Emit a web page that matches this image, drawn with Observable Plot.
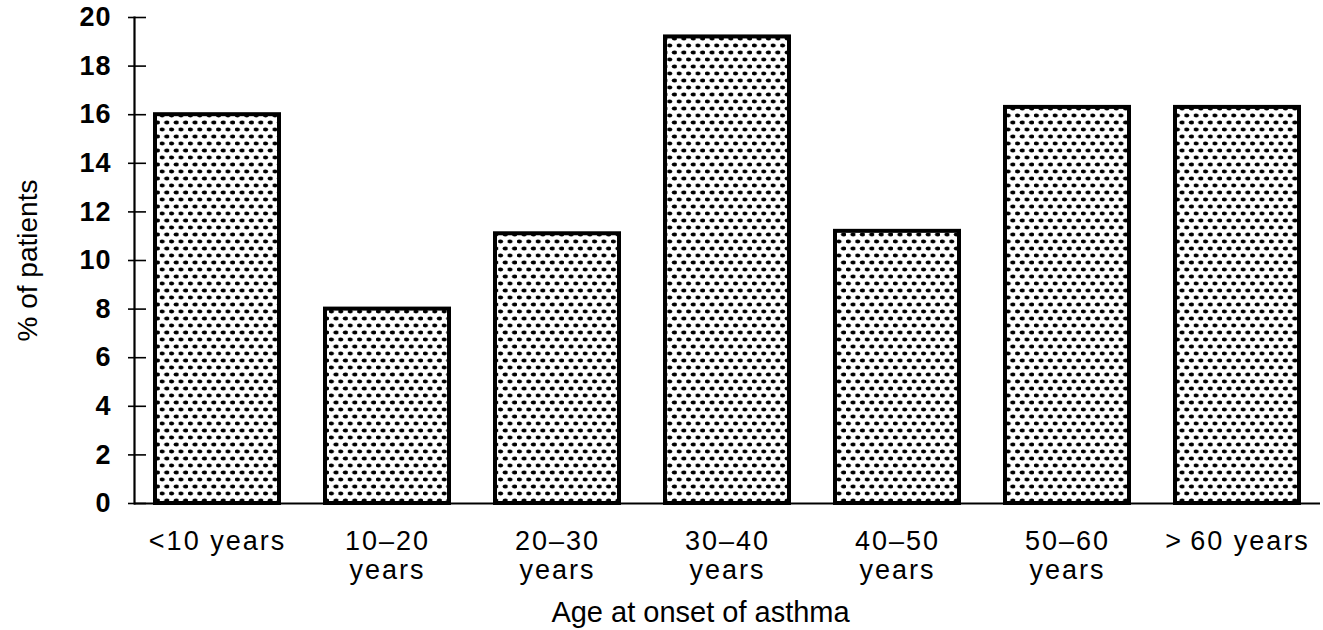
<!DOCTYPE html>
<html><head><meta charset="utf-8">
<script src="https://cdn.jsdelivr.net/npm/d3@7"></script>
<script src="https://cdn.jsdelivr.net/npm/@observablehq/plot@0.6"></script>
<style>
body{margin:0;background:#fff}
svg{font-family:"Liberation Sans",Arial,sans-serif}
</style>
</head><body><div id="chart"></div>
<script>
const categories = ["<10 years","10–20 years","20–30 years","30–40 years","40–50 years","50–60 years",">60 years"];
const tickLabels = ["<10 years","10–20\nyears","20–30\nyears","30–40\nyears","40–50\nyears","50–60\nyears",">\u200960 years"];
const percents = [16.0, 8.0, 11.1, 19.2, 11.2, 16.3, 16.3];
const yTicks = [0, 2, 4, 6, 8, 10, 12, 14, 16, 18, 20];
const xTitle = "Age at onset of asthma";
const yTitle = "% of patients";

const data = categories.map((c, i) => ({category: c, value: percents[i]}));

const svg = Plot.plot({
  width: 1323, height: 630,
  marginTop: 17, marginBottom: 127, marginLeft: 134, marginRight: 3,
  style: {background: "white", overflow: "visible", fontFamily: "'Liberation Sans', Arial, sans-serif", color: "black"},
  x: {domain: categories, paddingInner: 0.27, paddingOuter: 0.12, label: null},
  y: {domain: [0, 20], label: null},
  marks: [
    Plot.barY(data, {x: "category", y: "value", fill: "url(#dots)", stroke: "black", strokeWidth: 4}),
    Plot.ruleY([0], {stroke: "black", strokeWidth: 2}),
    Plot.frame({anchor: "left", stroke: "black", strokeWidth: 2.2}),
    Plot.axisY({ticks: yTicks, tickSize: 18, dx: 12, stroke: "black", strokeWidth: 1.6, tickFormat: () => "", label: null}),
    Plot.axisY({ticks: yTicks, tickSize: 0, tickPadding: 23, fontSize: 27, fontWeight: "bold", fill: "black", label: null}),
    Plot.axisX({tickSize: 0, tickPadding: 26, fontSize: 27, lineHeight: 1.08, fill: "black", label: null,
      tickFormat: d => tickLabels[categories.indexOf(d)]}),
    Plot.text([xTitle], {frameAnchor: "bottom", dx: -27, dy: 118, fontSize: 29, fill: "black"}),
    Plot.text([yTitle], {frameAnchor: "left", textAnchor: "middle", dx: -106, rotate: -90, fontSize: 28, fill: "black"})
  ]
});

const defs = d3.select(svg).insert("defs", ":first-child");
const pat = defs.append("pattern").attr("id", "dots").attr("patternUnits", "userSpaceOnUse")
  .attr("width", 9.4).attr("height", 14);
pat.append("rect").attr("width", 9.4).attr("height", 14).attr("fill", "white");
pat.append("ellipse").attr("cx", 2.3).attr("cy", 3.5).attr("rx", 2.6).attr("ry", 1.9).attr("fill", "black");
pat.append("ellipse").attr("cx", 7.0).attr("cy", 10.5).attr("rx", 2.6).attr("ry", 1.9).attr("fill", "black");

d3.select(svg).selectAll('[aria-label="x-axis tick label"] text').style("letter-spacing", "2px");
d3.select(svg).selectAll('[aria-label="y-axis tick label"] text').style("letter-spacing", "1px");

document.getElementById("chart").appendChild(svg);
</script>
</body></html>
